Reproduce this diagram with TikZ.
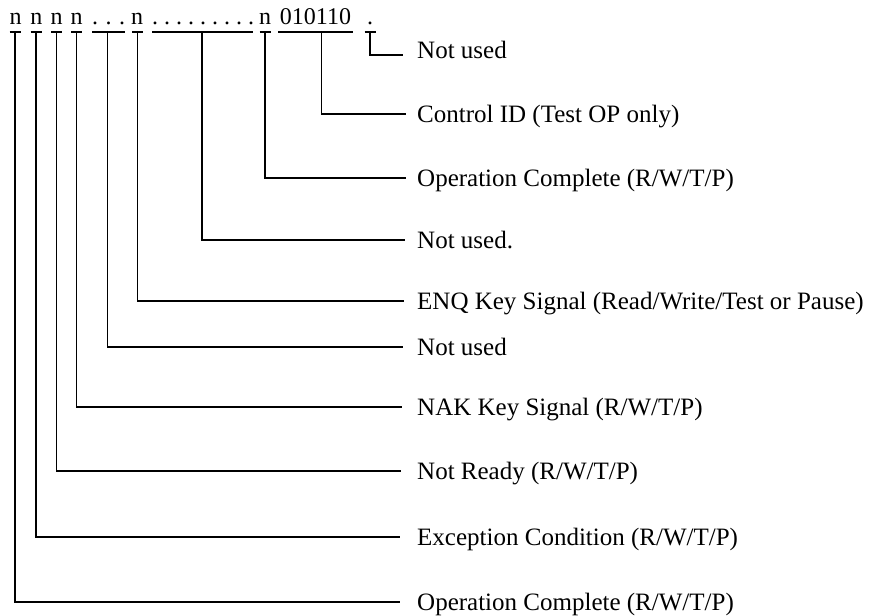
\documentclass[tikz,border=0pt]{standalone}
\usepackage{fontspec}
\setmainfont{Liberation Serif}
\begin{document}
\begin{tikzpicture}[x=1pt,y=-1pt,
  conn/.style={line width=1.7pt, line cap=butt, line join=miter},
  glyph/.style={inner sep=0pt, anchor=base, font=\fontsize{24}{28}\selectfont},
  lab/.style={inner sep=0pt, anchor=base west, font=\fontsize{25}{30}\selectfont}]
\useasboundingbox (0,0) rectangle (884,616);
% top row of bits
\node[glyph] (g1) at (15.5,24) {n};
\node[glyph] (g2) at (36.5,24) {n};
\node[glyph] (g3) at (56.5,24) {n};
\node[glyph] (g4) at (76.5,24) {n};
\foreach \x [count=\k] in {95,108.5,122}
  \node[glyph] (d\k) at (\x,24) {.};
\node[glyph] (g6) at (137,24) {n};
\foreach \x [count=\k] in {155,167,179,191,203,215,227,239,251}
  \node[glyph] (dd\k) at (\x,24) {.};
\node[glyph] (g8) at (265,24) {n};
\node[glyph] (g9) at (315.5,24) {010110};
\node[glyph] (g10) at (370,24) {.};
% bar points
\coordinate (b1) at (15,32);
\coordinate (b2) at (36,32);
\coordinate (b3) at (56.5,32);
\coordinate (b4) at (76.5,32);
\coordinate (b5) at (107.5,32);
\coordinate (b6) at (137.5,32);
\coordinate (b7) at (202,32);
\coordinate (b8) at (265,32);
\coordinate (b9) at (321.5,32);
\coordinate (b10) at (370,32);
% bars under glyphs
\foreach \b in {b1,b2,b3,b4,b6,b8,b10}
  \draw[conn] ([xshift=-5.5pt]\b) -- ([xshift=5.5pt]\b);
\draw[conn] (92,32) -- (125,32);
\draw[conn] (152,32) -- (253,32);
\draw[conn] (278,32) -- (353,32);
% line ends
\coordinate (e10) at (403,55);
\coordinate (e9) at (406,114);
\coordinate (e8) at (406,178);
\coordinate (e7) at (405,240);
\coordinate (e6) at (404,301);
\coordinate (e5) at (403,347);
\coordinate (e4) at (402,407);
\coordinate (e3) at (401,471);
\coordinate (e2) at (400,537);
\coordinate (e1) at (400,602);
% labels
\node[lab] (l10) at (417,58) {Not used};
\node[lab] (l9) at (417,122) {Control ID (Test OP only)};
\node[lab] (l8) at (417,186) {Operation Complete (R/W/T/P)};
\node[lab] (l7) at (417,248) {Not used.};
\node[lab] (l6) at (417,309) {ENQ Key Signal (Read/Write/Test or Pause)};
\node[lab] (l5) at (417,355) {Not used};
\node[lab] (l4) at (417,415) {NAK Key Signal (R/W/T/P)};
\node[lab] (l3) at (417,479) {Not Ready (R/W/T/P)};
\node[lab] (l2) at (417,545) {Exception Condition (R/W/T/P)};
\node[lab] (l1) at (417,610) {Operation Complete (R/W/T/P)};
% connectors
\foreach \i in {1,...,10}
  \draw[conn] (b\i) |- (e\i);
\end{tikzpicture}
\end{document}
